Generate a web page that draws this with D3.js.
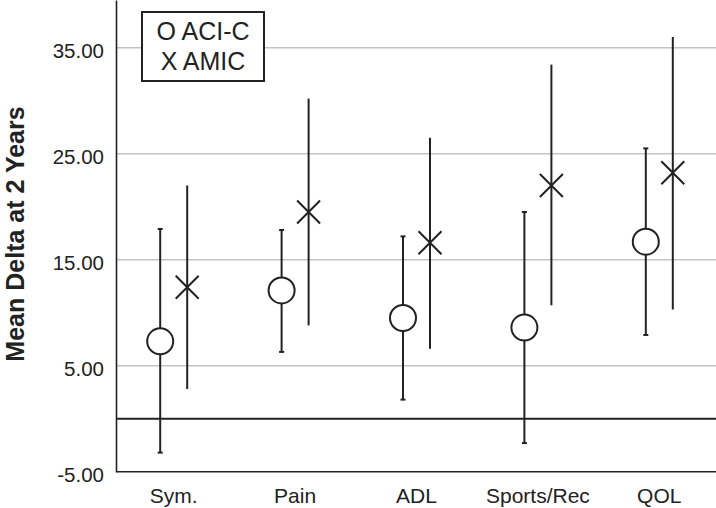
<!DOCTYPE html>
<html>
<head>
<meta charset="utf-8">
<script src="https://cdn.jsdelivr.net/npm/d3@7"></script>
<style>
  body { margin: 0; background: #fff; }
  svg { display: block; font-family: "Liberation Sans", Arial, sans-serif; }
</style>
</head>
<body>
<script>
// data
var categories = ["Sym.", "Pain", "ADL", "Sports/Rec", "QOL"];
var series = ["ACI-C", "AMIC"];
var aciMean = [7.3, 12.1, 9.5, 8.6, 16.7];
var aciLow = [-3.2, 6.3, 1.8, -2.3, 7.9];
var aciHigh = [17.9, 17.8, 17.2, 19.5, 25.5];
var amicMean = [12.4, 19.5, 16.6, 22.0, 23.2];
var amicLow = [2.8, 8.8, 6.6, 10.7, 10.3];
var amicHigh = [22.0, 30.2, 26.5, 33.4, 36.0];
var yTicks = [-5, 5, 15, 25, 35];
var gridTicks = [5, 15, 25, 35];
var legendLines = ["O ACI-C", "X AMIC"];

window.onload = drawChart();

function drawChart(){
    var width = 716,
        height = 508;

    var svg = d3.select("body")
        .append("svg")
        .attr("width", width)
        .attr("height", height);

    var left = 116, right = 716;

    var x = d3.scaleBand()
        .domain(categories)
        .range([113, 720]);

    var xSeries = d3.scaleBand()
        .domain(series)
        .range([-27, 27]);

    var y = d3.scaleLinear()
        .domain([-5, 39.5])
        .range([471.7, 0]);

    //gridlines
    svg.selectAll(".grid")
        .data(gridTicks)
        .enter()
        .append("line")
        .attr("class", "grid")
        .attr("x1", left)
        .attr("x2", right)
        .attr("y1", function(d){ return y(d); })
        .attr("y2", function(d){ return y(d); })
        .attr("stroke", "#c4c4c4")
        .attr("stroke-width", 1.6);

    //zero reference line
    svg.append("line")
        .attr("x1", left)
        .attr("x2", right)
        .attr("y1", y(0))
        .attr("y2", y(0))
        .attr("stroke", "#222")
        .attr("stroke-width", 2);

    //y axis (hyphen minus like the original)
    var fmt = d3.format(".2f");
    var yAxis = svg.append("g")
        .attr("transform", "translate(" + left + ",0)")
        .call(d3.axisLeft(y)
            .tickValues(yTicks)
            .tickFormat(function(d){ return fmt(d).replace("\u2212", "-"); })
            .tickSize(0)
            .tickPadding(12));
    yAxis.select(".domain").attr("stroke", "#222").attr("stroke-width", 1.6);
    yAxis.selectAll("text")
        .attr("font-size", 20.5)
        .attr("fill", "#222")
        .attr("dy", "0.47em");

    //bottom axis line
    svg.append("line")
        .attr("x1", left)
        .attr("x2", right)
        .attr("y1", y(-5))
        .attr("y2", y(-5))
        .attr("stroke", "#222")
        .attr("stroke-width", 1.6);

    //category labels
    svg.selectAll(".xlabel")
        .data(categories)
        .enter()
        .append("text")
        .attr("class", "xlabel")
        .attr("x", function(d){ return x(d) + x.bandwidth() / 2; })
        .attr("y", 503)
        .attr("text-anchor", "middle")
        .attr("font-size", 21)
        .attr("fill", "#222")
        .text(function(d){ return d; });

    //y axis title
    svg.append("text")
        .attr("transform", "translate(24,234) rotate(-90)")
        .attr("text-anchor", "middle")
        .attr("font-size", 25)
        .attr("font-weight", "bold")
        .attr("fill", "#222")
        .text("Mean Delta at 2 Years");

    var aciData = categories.map(function(c, i){
        return {cat: c, mean: aciMean[i], low: aciLow[i], high: aciHigh[i]};
    });
    var amicData = categories.map(function(c, i){
        return {cat: c, mean: amicMean[i], low: amicLow[i], high: amicHigh[i]};
    });

    function cx(d, s){ return x(d.cat) + x.bandwidth() / 2 + xSeries(s) + xSeries.bandwidth() / 2; }

    //ACI-C error bars with small caps
    var aci = svg.selectAll(".aci")
        .data(aciData)
        .enter()
        .append("g")
        .attr("class", "aci")
        .attr("stroke", "#222")
        .attr("stroke-width", 2);
    aci.append("line")
        .attr("x1", function(d){ return cx(d, "ACI-C"); })
        .attr("x2", function(d){ return cx(d, "ACI-C"); })
        .attr("y1", function(d){ return y(d.low); })
        .attr("y2", function(d){ return y(d.high); });
    aci.append("line")
        .attr("x1", function(d){ return cx(d, "ACI-C") - 2.5; })
        .attr("x2", function(d){ return cx(d, "ACI-C") + 2.5; })
        .attr("y1", function(d){ return y(d.high); })
        .attr("y2", function(d){ return y(d.high); });
    aci.append("line")
        .attr("x1", function(d){ return cx(d, "ACI-C") - 2.5; })
        .attr("x2", function(d){ return cx(d, "ACI-C") + 2.5; })
        .attr("y1", function(d){ return y(d.low); })
        .attr("y2", function(d){ return y(d.low); });
    aci.append("circle")
        .attr("cx", function(d){ return cx(d, "ACI-C"); })
        .attr("cy", function(d){ return y(d.mean); })
        .attr("r", 13)
        .attr("fill", "#fff");

    //AMIC error bars
    var amic = svg.selectAll(".amic")
        .data(amicData)
        .enter()
        .append("g")
        .attr("class", "amic")
        .attr("stroke", "#222")
        .attr("stroke-width", 2);
    amic.append("line")
        .attr("x1", function(d){ return cx(d, "AMIC"); })
        .attr("x2", function(d){ return cx(d, "AMIC"); })
        .attr("y1", function(d){ return y(d.low); })
        .attr("y2", function(d){ return y(d.high); });
    var s = 11.5;
    amic.append("path")
        .attr("fill", "none")
        .attr("d", function(d){
            var px = cx(d, "AMIC"), py = y(d.mean);
            return "M" + (px - s) + "," + (py - s) + "L" + (px + s) + "," + (py + s) +
                   "M" + (px - s) + "," + (py + s) + "L" + (px + s) + "," + (py - s);
        });

    //legend box
    var legend = svg.append("g");
    legend.append("rect")
        .attr("x", 142)
        .attr("y", 12)
        .attr("width", 122)
        .attr("height", 69)
        .attr("fill", "#fff")
        .attr("stroke", "#222")
        .attr("stroke-width", 2);
    legend.selectAll("text")
        .data(legendLines)
        .enter()
        .append("text")
        .attr("x", 203)
        .attr("y", function(d, i){ return 39.7 + i * 30.6; })
        .attr("text-anchor", "middle")
        .attr("font-size", 25)
        .attr("fill", "#222")
        .text(function(d){ return d; });
}
</script>
</body>
</html>
